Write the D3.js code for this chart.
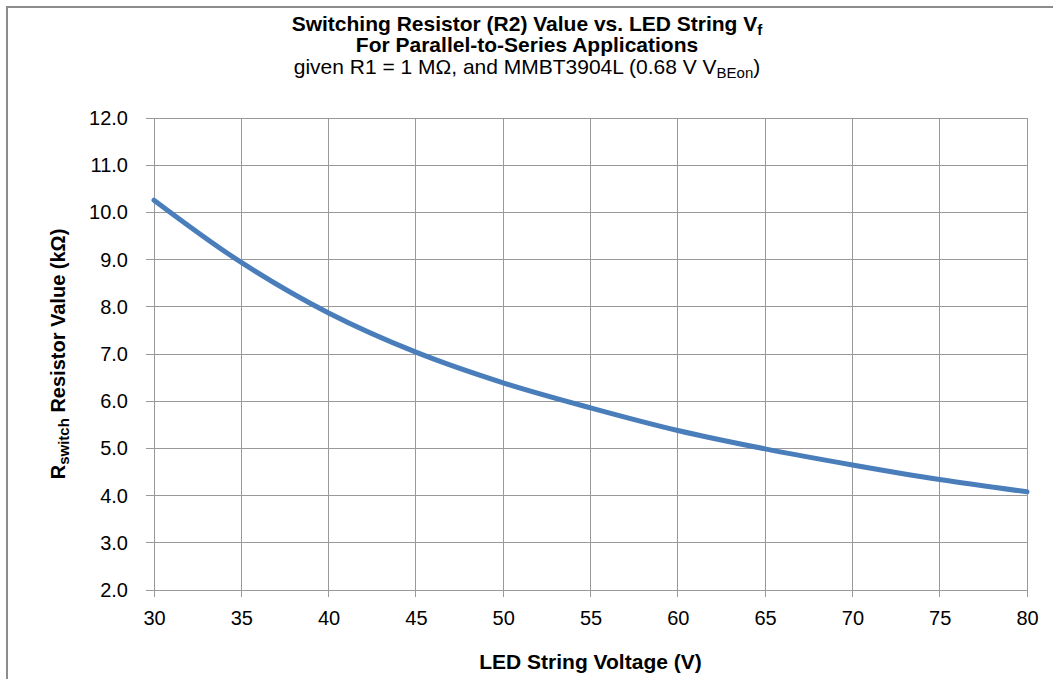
<!DOCTYPE html>
<html>
<head>
<meta charset="utf-8">
<script src="https://cdn.jsdelivr.net/npm/d3@7"></script>
<style>
  body { margin: 0; background: #fff; }
  svg { font-family: "Liberation Sans", Arial, sans-serif; }
</style>
</head>
<body>
<div id="chart"></div>
<script>
// LED string forward voltage (V)
const voltages = [30, 35, 40, 45, 50, 55, 60, 65, 70, 75, 80];
// switching resistor value (kOhm)
const rSwitch = [10.26, 8.94, 7.87, 7.04, 6.39, 5.86, 5.38, 4.99, 4.65, 4.34, 4.08];
const xTicks = [30, 35, 40, 45, 50, 55, 60, 65, 70, 75, 80];
const yTicks = [2, 3, 4, 5, 6, 7, 8, 9, 10, 11, 12];

const width = 1053, height = 679;
const margin = {top: 118, right: 26, bottom: 89, left: 154};

const svg = d3.select('#chart').append('svg')
  .attr('width', width)
  .attr('height', height);

// chart frame
svg.append('rect')
  .attr('x', 7).attr('y', 7)
  .attr('width', width + 20).attr('height', height + 20)
  .attr('fill', 'none')
  .attr('stroke', '#8c8c8c')
  .attr('stroke-width', 2);

const x = d3.scaleLinear()
  .domain([30, 80])
  .range([margin.left, width - margin.right]);
const y = d3.scaleLinear()
  .domain([2, 12])
  .range([height - margin.bottom, margin.top]);

// gridlines
const grid = svg.append('g').attr('class', 'grid');
grid.selectAll('.hgrid').data(yTicks).enter().append('line')
  .attr('class', 'hgrid')
  .attr('x1', x(30) - 8).attr('x2', x(80))
  .attr('y1', d => y(d)).attr('y2', d => y(d));
grid.selectAll('.vgrid').data(xTicks).enter().append('line')
  .attr('class', 'vgrid')
  .attr('y1', y(12)).attr('y2', y(2) + 7)
  .attr('x1', d => x(d)).attr('x2', d => x(d));
grid.selectAll('line')
  .attr('stroke', '#999')
  .attr('stroke-width', 1)
  .attr('shape-rendering', 'crispEdges');

// axes (labels only, lines drawn by grid)
const xAxis = svg.append('g')
  .attr('transform', `translate(0,${y(2)})`)
  .call(d3.axisBottom(x).tickValues(xTicks).tickSize(0).tickPadding(21));
const yAxis = svg.append('g')
  .attr('transform', `translate(${x(30)},0)`)
  .call(d3.axisLeft(y).tickValues(yTicks).tickFormat(d3.format('.1f')).tickSize(0).tickPadding(26));
[xAxis, yAxis].forEach(a => {
  a.select('.domain').remove();
  a.selectAll('text')
    .attr('fill', '#000')
    .style('font-size', '20px')
    .style('font-family', '"Liberation Sans", Arial, sans-serif');
});

// curve
const line = d3.line()
  .x((d, i) => x(voltages[i]))
  .y(d => y(d))
  .curve(d3.curveCatmullRom);
svg.append('path')
  .datum(rSwitch)
  .attr('d', line)
  .attr('fill', 'none')
  .attr('stroke', '#4a7ebb')
  .attr('stroke-width', 5)
  .attr('stroke-linecap', 'round');

// title
const title = svg.append('text')
  .attr('text-anchor', 'middle')
  .attr('fill', '#000');
const t1 = title.append('tspan').attr('x', 527).attr('y', 31)
  .style('font-weight', 'bold').style('font-size', '21px');
t1.append('tspan').text('Switching Resistor (R2) Value vs. LED String V');
t1.append('tspan').attr('baseline-shift', '-25%').style('font-size', '15px').text('f');
title.append('tspan').attr('x', 527).attr('y', 52)
  .style('font-weight', 'bold').style('font-size', '21px')
  .text('For Parallel-to-Series Applications');
const t3 = title.append('tspan').attr('x', 527).attr('y', 74).style('font-size', '21px');
t3.append('tspan').text('given R1 = 1 M\u03A9, and MMBT3904L (0.68 V V');
t3.append('tspan').attr('baseline-shift', '-25%').style('font-size', '15px').text('BEon');
t3.append('tspan').text(')');

// axis titles
svg.append('text')
  .attr('x', (x(30) + x(80)) / 2)
  .attr('y', 669)
  .attr('text-anchor', 'middle')
  .style('font-weight', 'bold').style('font-size', '21px')
  .text('LED String Voltage (V)');

const yt = svg.append('text')
  .attr('transform', `translate(65,${(y(2) + y(12)) / 2}) rotate(-90)`)
  .attr('text-anchor', 'middle')
  .style('font-weight', 'bold').style('font-size', '20px');
yt.append('tspan').text('R');
yt.append('tspan').attr('baseline-shift', '-25%').style('font-size', '15px').text('switch');
yt.append('tspan').text(' Resistor Value (k\u03A9)');
</script>
</body>
</html>
